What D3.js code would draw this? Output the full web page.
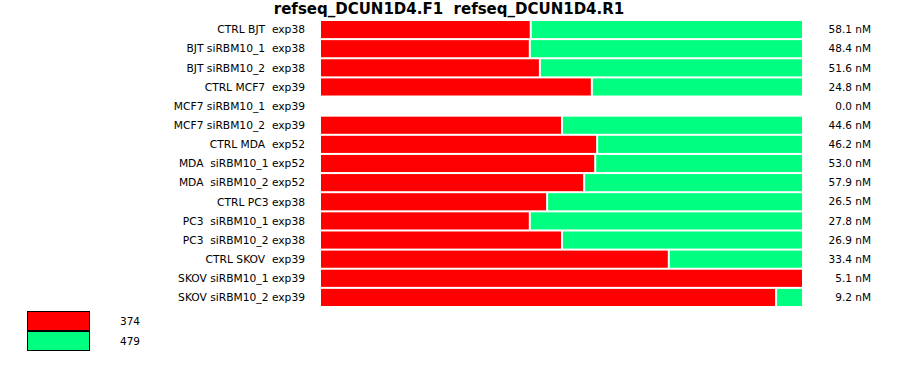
<!DOCTYPE html>
<html>
<head>
<meta charset="utf-8">
<script src="https://cdn.jsdelivr.net/npm/d3@7"></script>
<style>
  body { margin: 0; background: #fff; }
  text { font-family: "DejaVu Sans", Verdana, sans-serif; white-space: pre; }
</style>
</head>
<body>
<svg id="chart"></svg>
<script>
const WIDTH = 900;
const HEIGHT = 375;
const BAR_LEFT = 321;
const BAR_RIGHT = 802;
const TOP = 21;
const ROW_STEP = 19;
const SEG_GAP = 2;

const samples = [
    "CTRL BJT  exp38", "BJT siRBM10_1  exp38", "BJT siRBM10_2  exp38",
    "CTRL MCF7  exp39", "MCF7 siRBM10_1  exp39", "MCF7 siRBM10_2  exp39",
    "CTRL MDA  exp52", "MDA  siRBM10_1 exp52", "MDA  siRBM10_2 exp52",
    "CTRL PC3 exp38", "PC3  siRBM10_1 exp38", "PC3  siRBM10_2 exp38",
    "CTRL SKOV  exp39", "SKOV siRBM10_1 exp39", "SKOV siRBM10_2 exp39"
];
// percent of product per primer pair
const red374 = [43.4, 43.2, 45.3, 56.1, 0, 49.9, 57.2, 56.8, 54.5, 46.8, 43.2, 49.9, 72.1, 100, 94.4];
const green479 = [56.6, 56.8, 54.7, 43.9, 0, 50.1, 42.8, 43.2, 45.5, 53.2, 56.8, 50.1, 27.9, 0, 5.6];
const concentrations = ["58.1", "48.4", "51.6", "24.8", "0.0", "44.6", "46.2", "53.0", "57.9", "26.5", "27.8", "26.9", "33.4", "5.1", "9.2"];
const legendLabels = ["374", "479"];
const colors = ["#ff0000", "#00ff80"];

const svg = d3.select('#chart').attr('width', WIDTH).attr('height', HEIGHT);

const xScale = d3.scaleLinear().domain([0, 100]).range([BAR_LEFT, BAR_RIGHT]);
const yScale = d3.scaleBand()
    .domain(d3.range(samples.length))
    .range([TOP, TOP + ROW_STEP * samples.length])
    .paddingInner(2 / 19)
    .paddingOuter(0)
    .align(0);

svg.append('text')
    .attr('x', 449)
    .attr('y', 14)
    .attr('text-anchor', 'middle')
    .attr('font-weight', 'bold')
    .attr('font-size', 15)
    .text('refseq_DCUN1D4.F1  refseq_DCUN1D4.R1');

const rows = samples.map((name, i) => ({
    name, i,
    red: red374[i], green: green479[i], conc: concentrations[i]
}));

const g = svg.selectAll('.row')
    .data(rows)
    .join('g')
    .attr('class', 'row')
    .attr('transform', d => `translate(0, ${yScale(d.i)})`);

g.filter(d => d.red > 0).append('rect')
    .attr('x', xScale(0))
    .attr('y', 0)
    .attr('width', d => xScale(d.red) - xScale(0))
    .attr('height', yScale.bandwidth())
    .attr('fill', colors[0]);

g.filter(d => d.green > 0).append('rect')
    .attr('x', d => xScale(d.red) + SEG_GAP)
    .attr('y', 0)
    .attr('width', d => xScale(d.red + d.green) - xScale(d.red) - SEG_GAP)
    .attr('height', yScale.bandwidth())
    .attr('fill', colors[1]);

g.append('text')
    .attr('x', 305)
    .attr('y', yScale.bandwidth() / 2)
    .attr('dy', '0.35em')
    .attr('text-anchor', 'end')
    .attr('font-size', 10.7)
    .attr('fill', '#000')
    .text(d => d.name);

g.append('text')
    .attr('x', 871)
    .attr('y', yScale.bandwidth() / 2)
    .attr('dy', '0.35em')
    .attr('text-anchor', 'end')
    .attr('font-size', 10.5)
    .attr('fill', '#000')
    .text(d => `${d.conc} nM`);

// legend
const legend = svg.selectAll('.legend')
    .data(legendLabels)
    .join('g')
    .attr('class', 'legend')
    .attr('transform', (_, i) => `translate(27, ${311 + i * 20})`);

legend.append('rect')
    .attr('x', 0.5)
    .attr('y', 0.5)
    .attr('width', 62)
    .attr('height', 19)
    .attr('fill', (_, i) => colors[i])
    .attr('stroke', '#000')
    .attr('stroke-width', 1);

legend.append('text')
    .attr('x', 93)
    .attr('y', 10)
    .attr('dy', '0.35em')
    .attr('font-size', 10.5)
    .attr('fill', '#000')
    .text(d => d);
</script>
</body>
</html>
